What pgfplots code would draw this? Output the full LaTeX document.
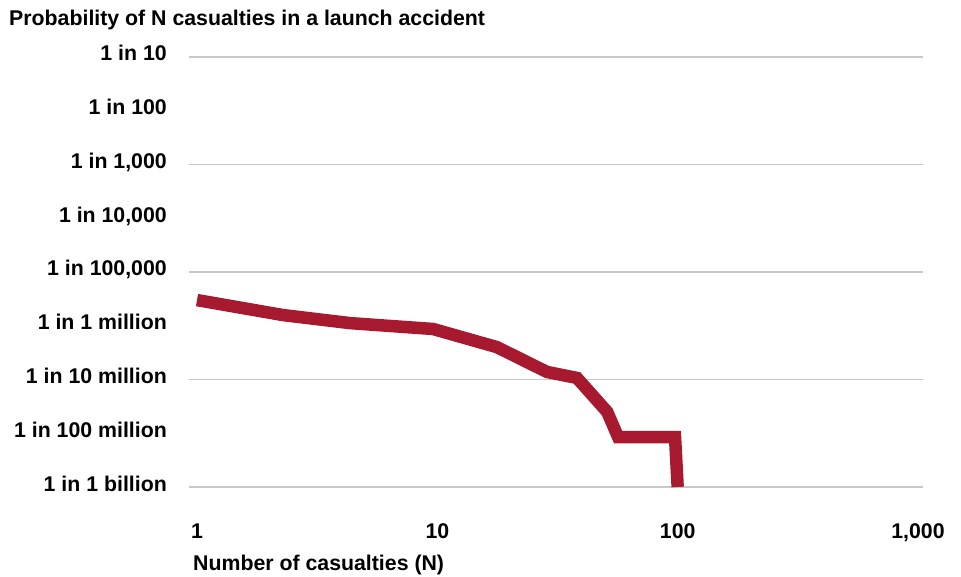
\documentclass[border=0pt]{standalone}
\usepackage{fontspec}
\setmainfont{Liberation Sans}
\usepackage{pgfplots}
\pgfplotsset{compat=1.18}
\definecolor{risk}{RGB}{166,25,46}
\definecolor{gridgray}{RGB}{200,200,200}
\begin{document}
\begin{tikzpicture}[x=1pt,y=1pt]
\path[use as bounding box] (0,0) rectangle (961,577);
\node[anchor=base west, inner sep=0pt, font=\fontsize{21.3}{25}\selectfont\bfseries] at (9,551) {Probability of N casualties in a launch accident};
\begin{axis}[
  at={(189pt,90pt)}, anchor=south west,
  scale only axis, width=734pt, height=430pt,
  xmode=log, ymode=log,
  xmin=0.926, xmax=1049, ymin=1e-9, ymax=1e-1,
  axis line style={draw=none},
  major tick length=0pt,
  xminorticks=false, yminorticks=false,
  xtick={1,10,100,1000},
  xticklabels={1,10,100,{1,000}},
  ytick={1e-1,1e-2,1e-3,1e-4,1e-5,1e-6,1e-7,1e-8,1e-9},
  yticklabels={1 in 10,1 in 100,{1 in 1,000},{1 in 10,000},{1 in 100,000},1 in 1 million,1 in 10 million,1 in 100 million,1 in 1 billion},
  ticklabel style={font=\fontsize{21.3}{25}\selectfont\bfseries, inner sep=0pt},
  xticklabel style={anchor=base, yshift=-51pt},
  yticklabel style={anchor=base east, xshift=-22pt, yshift=-4pt},
  extra y ticks={1e-1,1e-3,1e-5,1e-7,1e-9},
  extra y tick labels={},
  extra y tick style={grid=major, major grid style={gridgray, line width=1.5pt}},
  xlabel={Number of casualties (N)},
  xlabel style={at={(rel axis cs:0,0)}, anchor=base west, inner sep=0pt, xshift=4pt, yshift=-83pt, font=\fontsize{21.3}{25}\selectfont\bfseries},
  clip=false,
]
\addplot[color=risk, line width=12.5pt, line join=miter, line cap=butt] coordinates {
  (1, 3.0e-6)
  (2.28, 1.58e-6)
  (4.33, 1.12e-6)
  (9.6, 8.7e-7)
  (17.7, 4.0e-7)
  (28.6, 1.38e-7)
  (38.1, 1.07e-7)
  (50.9, 2.5e-8)
  (56.5, 8.5e-9)
  (97.5, 8.5e-9)
  (100, 1.0e-9)
};
\end{axis}
\end{tikzpicture}
\end{document}
